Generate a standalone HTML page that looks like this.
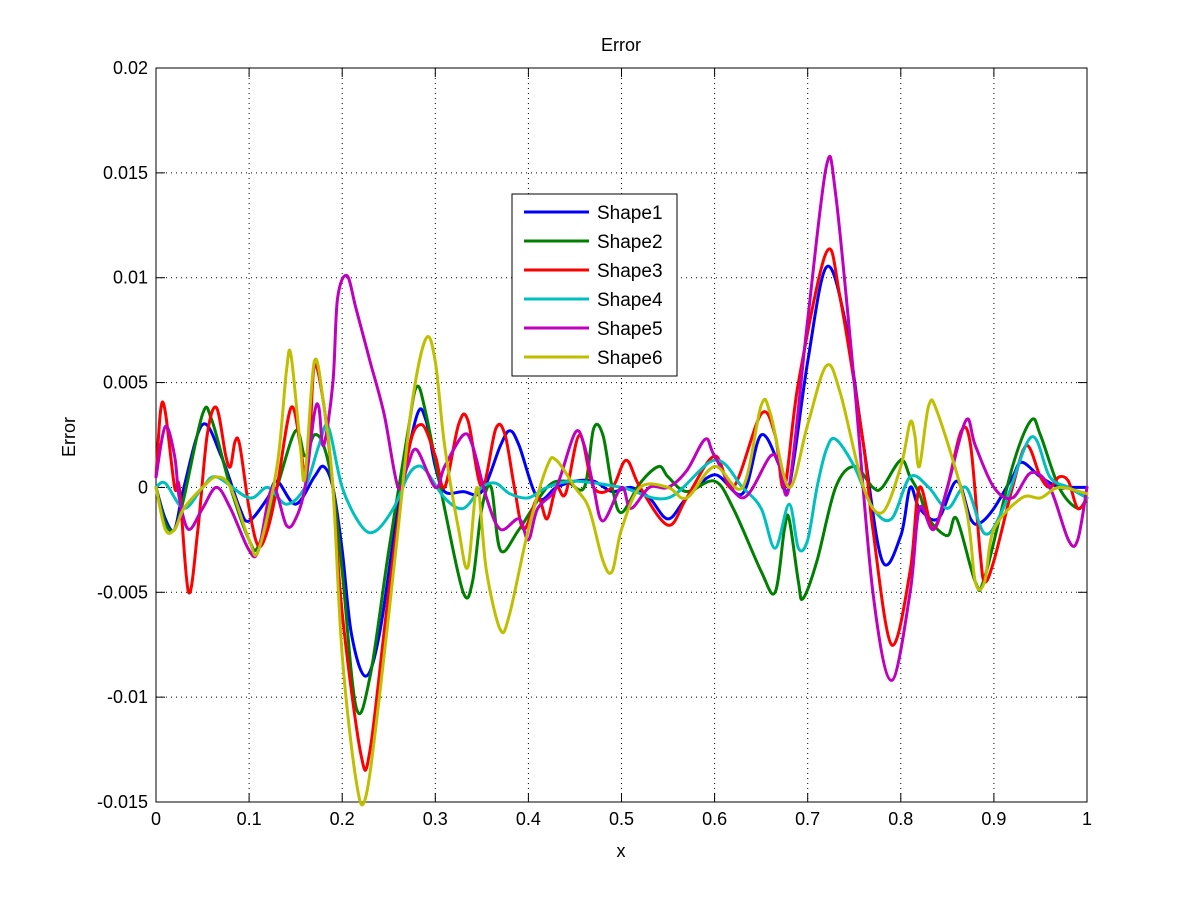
<!DOCTYPE html>
<html><head><meta charset="utf-8"><style>
html,body{margin:0;padding:0;background:#fff;}
svg{display:block;font-family:"Liberation Sans",Arial,sans-serif;}
</style></head><body>
<svg id="s" width="1201" height="901" viewBox="0 0 1201 901" xmlns="http://www.w3.org/2000/svg">
<rect width="1201" height="901" fill="#fff"/>
<g id="grid" stroke="#000" stroke-width="1" stroke-dasharray="1,4" fill="none"></g>
<rect x="156" y="68" width="931" height="734" fill="none" stroke="#000" stroke-width="1"/>
<g id="ticks" stroke="#000" stroke-width="1"></g>
<g id="labels" font-size="18" fill="#000"></g>
<g id="series" fill="none" stroke-width="3" stroke-linejoin="round" stroke-linecap="round"></g>
<text x="621" y="51" font-size="18" text-anchor="middle">Error</text>
<text x="621" y="857" font-size="18" text-anchor="middle">x</text>
<text x="0" y="0" font-size="18" text-anchor="middle" transform="translate(75,437) rotate(-90)">Error</text>
<g id="legend">
<rect x="512" y="194" width="165" height="182" fill="#fff" stroke="#000" stroke-width="1"/>
</g>
</svg>
<script>
var X0=156,X1=1087,Y0=802,Y1=68;
function px(x){return X0+x*(X1-X0);}
function py(v){return Y0-(v+15)/35*(Y0-Y1);}
var ns="http://www.w3.org/2000/svg";
function el(p,t,a,txt){var e=document.createElementNS(ns,t);for(var k in a)e.setAttribute(k,a[k]);if(txt!=null)e.textContent=txt;document.getElementById(p).appendChild(e);return e;}
for(var i=1;i<10;i++){var x=px(i/10);el("grid","line",{x1:x,y1:Y1,x2:x,y2:Y0});}
var yt=[-15,-10,-5,0,5,10,15,20],yl=["-0.015","-0.01","-0.005","0","0.005","0.01","0.015","0.02"];
for(var i=1;i<7;i++){var y=py(yt[i]);el("grid","line",{x1:X0,y1:y,x2:X1,y2:y});}
for(var i=0;i<=10;i++){var x=px(i/10);el("ticks","line",{x1:x,y1:Y0,x2:x,y2:Y0-9});el("ticks","line",{x1:x,y1:Y1,x2:x,y2:Y1+9});
el("labels","text",{x:x,y:825,"text-anchor":"middle"},i==0?"0":i==10?"1":("0."+i));}
for(var i=0;i<8;i++){var y=py(yt[i]);el("ticks","line",{x1:X0,y1:y,x2:X0+9,y2:y});el("ticks","line",{x1:X1,y1:y,x2:X1-9,y2:y});
el("labels","text",{x:148,y:y+6,"text-anchor":"end"},yl[i]);}
function P(s){var a=s.split(",").map(function(t){var q=t.split(":");return [px(+q[0]),py(+q[1])];});return a;}
function path(pts){var d="M"+pts[0][0]+","+pts[0][1];for(var i=0;i<pts.length-1;i++){var p0=pts[Math.max(0,i-1)],p1=pts[i],p2=pts[i+1],p3=pts[Math.min(pts.length-1,i+2)];
var c1=[p1[0]+(p2[0]-p0[0])/6,p1[1]+(p2[1]-p0[1])/6],c2=[p2[0]-(p3[0]-p1[0])/6,p2[1]-(p3[1]-p1[1])/6];
d+=" C"+c1[0].toFixed(1)+","+c1[1].toFixed(1)+" "+c2[0].toFixed(1)+","+c2[1].toFixed(1)+" "+p2[0].toFixed(1)+","+p2[1].toFixed(1);}return d;}
var S=[
["#0000ff","0:0,0.01:-1.5,0.02:-2,0.03:0,0.05:3,0.07:1.5,0.09:-1,0.1:-1.6,0.12:-0.5,0.13:0.3,0.15:-0.8,0.17:0.5,0.18:1,0.19:0,0.2:-3,0.21:-7,0.225:-9,0.24:-7,0.26:-1,0.28:3.4,0.29:3.2,0.3:1,0.31:-0.2,0.33:-0.2,0.35:-0.2,0.37:2,0.38:2.7,0.39:2,0.41:-0.5,0.43:0,0.45:0.3,0.47:0.3,0.49:-0.2,0.51:0,0.53:-0.5,0.55:-1.5,0.57:-0.5,0.6:0.6,0.63:-0.3,0.65:2.5,0.67:1,0.68:0,0.7:6,0.72:10.5,0.74:8,0.76:2,0.78:-3.5,0.8:-2.3,0.81:0,0.82:-1,0.84:-1.5,0.86:0.3,0.875:-1.5,0.885:-1.7,0.9:-1,0.92:0.5,0.93:1.2,0.95:0.5,0.97:0,0.98:0,1:0"],
["#008000","0:0,0.01:-1.7,0.02:-2,0.03:-0.5,0.05:3.5,0.06:3.2,0.08:0,0.1:-2.5,0.11:-2.8,0.13:0,0.15:2.7,0.16:1.5,0.17:2.5,0.18:2,0.19:0,0.2:-4,0.215:-10.5,0.23:-9,0.25:-3,0.27:2.5,0.28:4.8,0.29:3.5,0.31:-1,0.33:-5,0.34:-4.5,0.35:-1,0.36:0,0.37:-3,0.39:-2,0.42:0,0.44:0.3,0.46:0,0.47:2.8,0.48:2.5,0.49:0,0.5:-1.2,0.52:0.2,0.54:1,0.55:0.5,0.57:-0.2,0.6:0.3,0.62:-1,0.65:-4,0.665:-5,0.675:-2,0.68:-1.5,0.69:-4.5,0.695:-5.3,0.71:-3.5,0.73:0,0.75:1,0.77:0,0.78:0,0.8:1.3,0.81:0.5,0.82:-0.3,0.83:-1.5,0.85:-2.3,0.86:-1.5,0.88:-4.5,0.89:-4.3,0.92:1,0.94:3.2,0.95:2.5,0.97:0,0.99:-1,1:-0.5"],
["#ff0000","0:0.5,0.005:3.7,0.01:3.6,0.02:0,0.025:0,0.035:-5,0.045:-2,0.055:2.5,0.065:3.8,0.075:1.5,0.08:1,0.085:2.2,0.09:2,0.1:-1,0.11:-2.8,0.12:-2,0.13:0,0.145:3.8,0.155:2,0.16:0.5,0.165:2,0.17:5.8,0.18:4,0.19:0,0.2:-6,0.22:-12.7,0.23:-12.5,0.25:-5,0.27:1.5,0.285:3,0.3:1.5,0.31:0,0.325:3,0.335:3.2,0.35:0,0.365:2.8,0.375:2.5,0.385:0,0.395:-2,0.41:-0.5,0.42:-1.5,0.43:0,0.44:-0.3,0.455:2.5,0.47:0,0.49:0,0.505:1.3,0.52:0,0.55:-1.8,0.57:-0.5,0.6:1.5,0.62:0,0.65:3.5,0.665:2.5,0.675:0,0.69:5,0.72:11.2,0.735:9,0.76:2,0.77:-2,0.79:-7.5,0.81:-4,0.82:0,0.835:-2,0.85:0,0.865:2.7,0.875:2,0.885:-3,0.89:-4.5,0.9:-3.5,0.92:0,0.935:2,0.95:0.5,0.96:0,0.97:0.5,0.98:0.3,0.99:-1,1:-0.5"],
["#00bfbf","0:0,0.01:0.2,0.03:-1,0.05:0,0.065:0.5,0.1:-0.5,0.12:0,0.14:-0.8,0.16:0,0.175:2,0.185:2.9,0.2:0,0.22:-1.8,0.235:-2.1,0.255:-1,0.27:0.5,0.28:1,0.29:0.8,0.31:-0.5,0.33:-1,0.35:0,0.365:0.2,0.38:-0.3,0.4:-0.5,0.42:0,0.45:0.3,0.5:0,0.55:-0.5,0.6:1.3,0.63:0,0.65:-1,0.665:-2.9,0.68:-0.8,0.69:-2.9,0.7:-2.5,0.71:0,0.72:1.8,0.73:2.3,0.75:1,0.77:-1,0.79:-1.5,0.81:0.5,0.83:0,0.85:-1,0.87:0,0.89:-2.2,0.91:-1,0.94:2.4,0.96:0.5,0.98:0,1:-0.5"],
["#bf00bf","0:0.5,0.01:2.9,0.02:1.5,0.025:-0.5,0.035:-2,0.05:-1,0.065:0,0.08:-1,0.1:-3,0.11:-3,0.125:0,0.14:-1.8,0.15:-1.5,0.16:0,0.17:3.5,0.175:3.8,0.18:2,0.19:5,0.195:9,0.205:10.1,0.215:8.5,0.23:6,0.245:3.5,0.26:0,0.27:1,0.28:1.8,0.3:0,0.31:1,0.33:2.5,0.34:2,0.355:-0.5,0.37:-2,0.39:-1.5,0.4:-2.5,0.41:-1,0.43:0,0.45:2.6,0.46:2,0.47:0,0.48:-1.6,0.5:0,0.51:-1,0.53:0,0.55:0,0.57:0.8,0.59:2.3,0.6:1.5,0.63:-0.5,0.66:1.5,0.67:1,0.68:0,0.7:8,0.72:15.3,0.73:14,0.75:5,0.77:-5,0.79:-9.2,0.81:-5,0.82:-1,0.835:-2,0.85:0,0.87:3.2,0.88:2,0.9:0,0.92:-0.5,0.94:0.7,0.96:0,0.98:-2.5,0.99:-2.5,1:0"],
["#bfbf00","0:0,0.01:-2,0.02:-2,0.03:-1,0.05:0,0.065:0.5,0.08:0,0.1:-2.5,0.11:-3,0.13:1,0.14:5.5,0.145:6.3,0.155:2,0.16:0.5,0.17:6,0.18:4,0.19:0,0.2:-8,0.215:-14,0.225:-14.8,0.24:-10,0.26:-2,0.275:4,0.29:7.1,0.3:6,0.31:2,0.325:-2,0.335:-3.8,0.345:0,0.355:-4,0.37:-6.8,0.38:-6,0.4:-2,0.42:1,0.43:1.3,0.45:0,0.465:-1,0.48:-3.5,0.49:-4,0.5:-2,0.52:0,0.55:0,0.57:-0.5,0.6:1,0.63:0,0.65:3.9,0.66:3.5,0.68:0,0.7:3,0.72:5.8,0.735:4.5,0.76:0,0.78:-1.2,0.8:1,0.81:3.1,0.815:2.5,0.82:1,0.83:3.9,0.84:3.5,0.87:-1,0.88:-4.5,0.89:-4.5,0.9:-2,0.93:-0.5,0.95:-0.5,0.97:0,1:-0.3"]];
for(var i=0;i<S.length;i++){el("series","path",{d:path(P(S[i][1])),stroke:S[i][0]});
var y=212+i*29;el("legend","line",{x1:524,y1:y,x2:589,y2:y,stroke:S[i][0],"stroke-width":3});
el("legend","text",{x:597,y:y+7,"font-size":19},"Shape"+(i+1));}
</script>
</body></html>
